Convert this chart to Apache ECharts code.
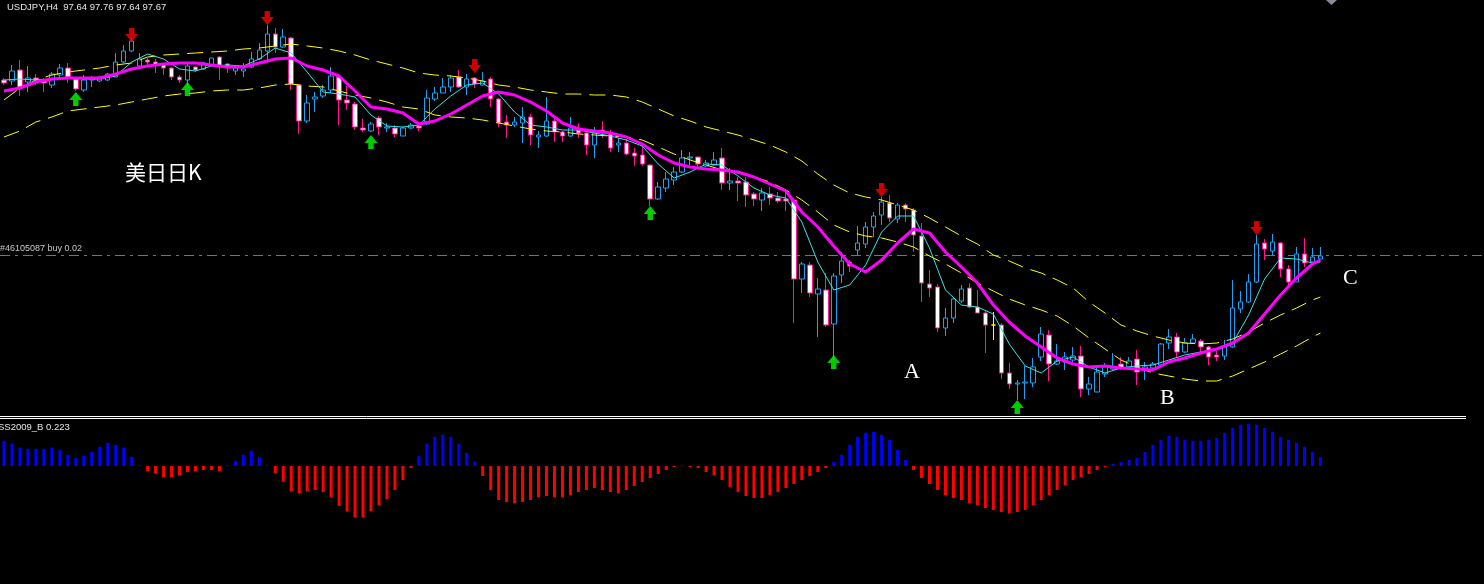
<!DOCTYPE html>
<html><head><meta charset="utf-8">
<script src="https://cdn.jsdelivr.net/npm/echarts/dist/echarts.min.js"></script>
<style>html,body{margin:0;padding:0;background:#000;overflow:hidden}#c{width:1484px;height:584px}</style>
</head><body><div id="c"></div>
<script>
// ---- candle data (USDJPY H4), index 0..165 ----
const open = [99.43,99.42,99.53,99.41,99.45,99.43,99.38,99.48,99.55,99.44,
 99.33,99.43,99.42,99.43,99.46,99.61,99.72,99.57,99.63,99.61,
 99.58,99.55,99.46,99.43,99.56,99.54,99.58,99.66,99.59,99.52,
 99.52,99.56,99.64,99.72,99.89,99.76,99.85,99.38,99.02,99.24,
 99.27,99.33,99.46,99.23,99.19,98.95,98.92,99.05,98.95,98.95,
 98.87,98.95,98.97,98.99,99.24,99.30,99.36,99.46,99.36,99.45,
 99.38,99.44,99.24,99.01,98.98,99.00,99.06,98.86,98.87,99.02,
 98.91,98.87,98.93,98.90,98.78,98.93,98.89,98.78,98.80,98.70,
 98.68,98.58,98.24,98.35,98.43,98.51,98.65,98.66,98.57,98.58,
 98.65,98.40,98.42,98.41,98.29,98.23,98.29,98.25,98.24,98.23,
 97.44,97.58,97.29,97.33,96.99,97.48,97.61,97.73,97.79,97.96,
 98.08,98.20,98.04,98.18,98.13,97.87,97.39,97.36,96.95,97.05,
 97.22,97.35,97.16,97.10,96.98,96.98,96.50,96.39,96.40,96.40,
 96.66,96.88,96.59,96.61,96.63,96.67,96.34,96.31,96.49,96.54,
 96.59,96.56,96.64,96.54,96.55,96.58,96.80,96.86,96.71,96.80,
 96.82,96.76,96.68,96.67,96.76,97.14,97.21,97.41,97.80,97.72,
 97.80,97.54,97.41,97.69,97.61,97.64];
const close = [99.40,99.52,99.36,99.45,99.43,99.40,99.49,99.55,99.46,99.34,
 99.43,99.45,99.46,99.49,99.61,99.72,99.82,99.64,99.61,99.58,
 99.55,99.46,99.43,99.57,99.53,99.60,99.65,99.57,99.55,99.55,
 99.54,99.64,99.73,99.89,99.76,99.86,99.39,99.02,99.20,99.26,
 99.33,99.47,99.23,99.20,98.96,98.93,98.99,98.96,98.96,98.89,
 98.95,98.98,98.95,99.25,99.30,99.36,99.45,99.36,99.44,99.39,
 99.42,99.24,99.00,98.98,99.01,99.06,98.88,98.88,99.02,98.91,
 98.87,98.95,98.90,98.78,98.90,98.90,98.75,98.80,98.69,98.67,
 98.59,98.24,98.36,98.44,98.51,98.65,98.66,98.59,98.60,98.63,
 98.40,98.42,98.40,98.28,98.24,98.30,98.25,98.22,98.22,97.44,
 97.59,97.30,97.34,96.98,97.47,97.62,97.57,97.80,97.96,98.07,
 98.21,98.05,98.18,98.14,97.88,97.40,97.35,96.95,97.05,97.24,
 97.34,97.16,97.10,96.98,96.98,96.50,96.39,96.40,96.41,96.56,
 96.89,96.59,96.62,96.66,96.67,96.34,96.39,96.51,96.57,96.56,
 96.55,96.62,96.51,96.56,96.59,96.79,96.86,96.71,96.80,96.84,
 96.76,96.66,96.66,96.76,97.15,97.21,97.41,97.79,97.74,97.81,
 97.54,97.41,97.69,97.60,97.66,97.67];
const low = [99.38,99.38,99.27,99.31,99.38,99.31,99.35,99.46,99.40,99.32,
 99.31,99.36,99.41,99.42,99.46,99.60,99.71,99.56,99.56,99.50,
 99.48,99.43,99.40,99.38,99.51,99.53,99.57,99.43,99.50,99.48,
 99.46,99.55,99.63,99.60,99.70,99.75,99.33,98.89,99.00,99.11,
 99.25,99.30,98.98,99.13,98.93,98.91,98.91,98.88,98.91,98.86,
 98.87,98.94,98.92,98.98,99.22,99.30,99.31,99.35,99.28,99.35,
 99.37,99.16,98.96,98.85,98.96,98.80,98.78,98.75,98.86,98.81,
 98.81,98.86,98.85,98.68,98.65,98.85,98.71,98.71,98.68,98.57,
 98.57,98.17,98.23,98.31,98.38,98.50,98.58,98.56,98.56,98.57,
 98.33,98.33,98.22,98.16,98.17,98.12,98.18,98.20,98.12,97.00,
 97.30,97.26,96.86,96.96,96.63,97.40,97.51,97.68,97.75,97.86,
 97.98,98.01,98.00,98.01,97.71,97.21,97.26,96.91,96.87,97.00,
 97.20,97.15,97.10,96.70,96.83,96.44,96.34,96.23,96.24,96.36,
 96.62,96.42,96.58,96.53,96.58,96.26,96.28,96.31,96.46,96.53,
 96.53,96.55,96.38,96.43,96.54,96.57,96.74,96.66,96.70,96.80,
 96.71,96.58,96.62,96.63,96.75,97.10,97.20,97.40,97.63,97.68,
 97.46,97.38,97.41,97.56,97.60,97.64];
const high = [99.45,99.58,99.63,99.57,99.49,99.45,99.51,99.59,99.60,99.46,
 99.48,99.47,99.46,99.50,99.70,99.78,99.85,99.70,99.65,99.64,
 99.60,99.56,99.48,99.61,99.57,99.61,99.65,99.67,99.60,99.58,
 99.60,99.71,99.80,99.98,99.95,99.94,99.86,99.39,99.28,99.31,
 99.38,99.56,99.48,99.37,99.21,99.04,99.01,99.07,99.00,98.98,
 98.96,99.00,98.99,99.33,99.36,99.45,99.48,99.53,99.49,99.46,
 99.51,99.46,99.25,99.08,99.06,99.16,99.09,98.92,99.26,99.04,
 98.92,99.06,99.00,98.93,98.96,99.02,98.93,98.85,98.84,98.75,
 98.76,98.59,98.41,98.51,98.56,98.73,98.71,98.66,98.63,98.71,
 98.75,98.55,98.46,98.46,98.31,98.35,98.36,98.31,98.34,98.25,
 97.61,97.61,97.45,97.50,97.50,97.71,97.63,97.97,98.01,98.11,
 98.26,98.28,98.20,98.20,98.15,98.00,97.53,97.39,97.15,97.26,
 97.38,97.40,97.33,97.13,97.11,97.00,96.60,96.43,96.57,96.65,
 96.96,96.93,96.79,96.71,96.76,96.77,96.46,96.56,96.60,96.70,
 96.66,96.66,96.73,96.61,96.61,96.80,96.94,96.90,96.85,96.89,
 96.84,96.77,96.72,96.83,97.43,97.32,97.49,97.88,97.84,97.89,
 97.81,97.58,97.76,97.85,97.75,97.76];
const dojiIdx = [124];

// ---- indicator lines, sampled at candles 0,2,4,...,164 and 165 ----
const slowMA = [99.32,99.35,99.41,99.44,99.45,99.45,99.45,99.49,99.54,99.57,
 99.59,99.60,99.60,99.58,99.56,99.56,99.60,99.64,99.65,99.57,
 99.53,99.47,99.32,99.16,99.14,99.10,98.99,99.02,99.09,99.18,
 99.27,99.31,99.28,99.21,99.12,99.00,98.94,98.92,98.90,98.86,
 98.79,98.68,98.60,98.56,98.54,98.53,98.51,98.46,98.39,98.32,
 98.11,97.96,97.77,97.59,97.51,97.63,97.80,97.94,97.90,97.71,
 97.56,97.40,97.18,97.01,96.87,96.76,96.65,96.59,96.56,96.57,
 96.55,96.54,96.53,96.61,96.65,96.70,96.74,96.80,96.90,97.09,
 97.28,97.45,97.59,97.63];
const fastMA = [99.43,99.44,99.43,99.44,99.45,99.44,99.44,99.47,99.61,99.69,
 99.64,99.54,99.52,99.57,99.58,99.57,99.64,99.75,99.70,99.51,
 99.31,99.29,99.26,99.08,98.97,98.96,98.98,99.14,99.27,99.38,
 99.40,99.29,99.11,98.98,98.96,98.93,98.93,98.90,98.87,98.83,
 98.77,98.59,98.45,98.51,98.59,98.58,98.47,98.35,98.28,98.25,
 98.01,97.61,97.33,97.38,97.58,97.91,98.07,98.07,97.75,97.33,
 97.18,97.16,97.09,96.79,96.57,96.50,96.62,96.66,96.56,96.50,
 96.55,96.57,96.58,96.63,96.68,96.71,96.74,96.80,97.08,97.44,
 97.65,97.64,97.60,97.61];
const upperBand = [99.23,99.35,99.43,99.48,99.51,99.53,99.55,99.58,99.60,99.66,
 99.68,99.69,99.70,99.71,99.72,99.74,99.75,99.77,99.79,99.77,
 99.75,99.72,99.68,99.63,99.59,99.55,99.50,99.48,99.47,99.45,
 99.42,99.38,99.36,99.33,99.31,99.29,99.29,99.28,99.28,99.26,
 99.21,99.14,99.07,99.02,98.96,98.92,98.88,98.83,98.78,98.71,
 98.62,98.49,98.38,98.30,98.26,98.23,98.18,98.13,98.05,97.96,
 97.87,97.79,97.68,97.62,97.55,97.50,97.43,97.35,97.21,97.10,
 96.98,96.92,96.87,96.83,96.80,96.79,96.80,96.84,96.91,97.00,
 97.08,97.15,97.23,97.26];
const lowerBand = [98.86,98.92,99.01,99.06,99.12,99.14,99.16,99.18,99.21,99.24,
 99.27,99.29,99.30,99.32,99.33,99.33,99.35,99.38,99.39,99.37,
 99.36,99.32,99.28,99.25,99.21,99.16,99.14,99.08,99.06,99.05,
 99.03,99.00,98.97,98.94,98.92,98.91,98.89,98.88,98.87,98.86,
 98.83,98.76,98.69,98.63,98.58,98.53,98.50,98.46,98.41,98.33,
 98.23,98.11,97.98,97.91,97.87,97.85,97.81,97.76,97.67,97.59,
 97.50,97.40,97.32,97.24,97.18,97.13,97.07,96.97,96.85,96.74,
 96.63,96.56,96.50,96.47,96.44,96.42,96.42,96.47,96.54,96.61,
 96.69,96.77,96.86,96.90];

// ---- signal arrows ----
const sellArrowIdx = [16, 33, 59, 110, 157];
const sellArrowPrice = [99.81, 99.98, 99.50, 98.26, 97.88];
const buyArrowIdx = [9, 23, 46, 81, 104, 127];
const buyArrowPrice = [99.31, 99.41, 98.88, 98.17, 96.68, 96.23];

// ---- SS2009_B histogram ----
const ssHist = [0.63,0.56,0.46,0.43,0.43,0.43,0.46,0.40,0.28,0.20,
 0.26,0.35,0.48,0.58,0.53,0.46,0.23,0.02,-0.13,-0.19,
 -0.28,-0.28,-0.24,-0.15,-0.13,-0.10,-0.10,-0.13,0.02,0.13,
 0.28,0.38,0.23,0.02,-0.18,-0.39,-0.63,-0.68,-0.63,-0.60,
 -0.65,-0.78,-1.00,-1.14,-1.28,-1.28,-1.13,-0.98,-0.83,-0.60,
 -0.35,-0.05,0.25,0.56,0.73,0.78,0.73,0.56,0.33,0.11,
 -0.25,-0.60,-0.85,-0.90,-0.93,-0.90,-0.85,-0.78,-0.75,-0.78,
 -0.78,-0.73,-0.65,-0.60,-0.55,-0.60,-0.65,-0.68,-0.60,-0.50,
 -0.40,-0.30,-0.20,-0.10,-0.03,0.02,-0.03,-0.05,-0.15,-0.23,
 -0.35,-0.53,-0.65,-0.75,-0.80,-0.80,-0.73,-0.65,-0.55,-0.45,
 -0.35,-0.25,-0.15,-0.05,0.10,0.28,0.53,0.73,0.83,0.85,
 0.78,0.65,0.40,0.15,-0.10,-0.30,-0.45,-0.60,-0.73,-0.80,
 -0.85,-0.93,-0.98,-1.05,-1.10,-1.15,-1.18,-1.15,-1.10,-0.98,
 -0.85,-0.73,-0.60,-0.48,-0.35,-0.28,-0.20,-0.10,-0.03,0.05,
 0.10,0.15,0.20,0.35,0.53,0.65,0.75,0.73,0.65,0.63,
 0.63,0.65,0.70,0.83,0.95,1.03,1.05,1.03,0.95,0.85,
 0.73,0.65,0.58,0.48,0.35,0.223];

const orderPrice = 97.68;
const headerText = 'USDJPY,H4  97.64 97.76 97.64 97.67';
const subLabel = 'SS2009_B 0.223';
const orderLabel = '#46105087 buy 0.02';
const noteText = '美日日K';

// ---- build ----
const SLOTS = 186; // 166 bars + empty chart shift
const cats = Array.from({length: SLOTS}, (_, i) => String(i));
const lineIdx = Array.from({length: 83}, (_, i) => 2 * i).concat([165]);
const pairs = arr => arr.map((v, j) => [lineIdx[j], v]);
const candleData = open.map((o, i) => dojiIdx.includes(i) ? '-' : [o, close[i], low[i], high[i]]);
const dojiData = open.map((o, i) => dojiIdx.includes(i) ? [o, close[i], low[i], high[i]] : '-');
const arrowDown = 'path://M3.5,0 L8.5,0 L8.5,5.5 L12,5.5 L6,13 L0,5.5 L3.5,5.5 Z';
const arrowUp = 'path://M6,0 L12,7.5 L8.5,7.5 L8.5,13 L3.5,13 L3.5,7.5 L0,7.5 Z';

const chart = echarts.init(document.getElementById('c'), null, {renderer: 'canvas'});
const lineSeries = (data, color, width, type, z) => ({
  type: 'line', xAxisIndex: 0, yAxisIndex: 0, data: pairs(data), showSymbol: false, symbol: 'none',
  connectNulls: true, silent: true, z: z,
  lineStyle: {color: color, width: width, type: type}
});
const smallFont = '9.5px "Liberation Sans", Arial, sans-serif';

chart.setOption({
  backgroundColor: '#000000',
  animation: false,
  grid: [
    {left: -4, top: 0, width: 1488, height: 415},
    {left: -4, top: 420, width: 1488, height: 164}
  ],
  xAxis: [
    {type: 'category', data: cats, gridIndex: 0, boundaryGap: true, show: false},
    {type: 'category', data: cats, gridIndex: 1, boundaryGap: true, show: false}
  ],
  yAxis: [
    {type: 'value', gridIndex: 0, min: 96.08, max: 100.23, show: false},
    {type: 'value', gridIndex: 1, min: -2.95, max: 1.15, show: false}
  ],
  series: [
    {
      type: 'candlestick', xAxisIndex: 0, yAxisIndex: 0, data: candleData, barWidth: 5, z: 2, silent: true,
      itemStyle: {color: '#000000', color0: '#FFFFFF', borderColor: '#1EA0F5', borderColor0: '#FF1493', borderWidth: 1},
      markLine: {
        silent: true, symbol: ['none', 'none'], label: {show: false}, z: 1,
        lineStyle: {color: '#3A9A4A', width: 1, type: [10, 5, 3, 5]},
        data: [{yAxis: orderPrice}]
      }
    },
    {
      type: 'candlestick', xAxisIndex: 0, yAxisIndex: 0, data: dojiData, barWidth: 5, z: 2, silent: true,
      itemStyle: {color: '#FFFF00', color0: '#FFFF00', borderColor: '#FFFF00', borderColor0: '#FFFF00', borderWidth: 1}
    },
    lineSeries(upperBand, '#FFFF00', 1, [16, 8], 3),
    lineSeries(lowerBand, '#FFFF00', 1, [16, 8], 3),
    lineSeries(fastMA, '#33E6E6', 1, 'solid', 4),
    lineSeries(slowMA, '#FF00FF', 3, 'solid', 5),
    {
      type: 'scatter', xAxisIndex: 0, yAxisIndex: 0, symbol: arrowDown, symbolSize: [13, 14], symbolOffset: [0, -7],
      itemStyle: {color: '#FF0000'}, z: 6, silent: true,
      data: sellArrowIdx.map((k, j) => [k, sellArrowPrice[j]])
    },
    {
      type: 'scatter', xAxisIndex: 0, yAxisIndex: 0, symbol: arrowUp, symbolSize: [13, 14], symbolOffset: [0, 7],
      itemStyle: {color: '#00FF00'}, z: 6, silent: true,
      data: buyArrowIdx.map((k, j) => [k, buyArrowPrice[j]])
    },
    {
      type: 'bar', xAxisIndex: 1, yAxisIndex: 1, barWidth: 3, silent: true,
      data: ssHist.map(v => ({value: v, itemStyle: {color: v >= 0 ? '#0000FF' : '#FF0000'}}))
    }
  ],
  graphic: [
    {type: 'text', x: 7, y: 7, style: {text: headerText, fill: '#E6E6E6', font: smallFont, verticalAlign: 'middle'}},
    {type: 'text', x: -2, y: 427, style: {text: subLabel, fill: '#E6E6E6', font: smallFont, verticalAlign: 'middle'}},
    {type: 'text', x: 0, y: 249, style: {text: orderLabel, fill: '#C8C8C8', font: '9px "Liberation Sans", Arial, sans-serif', verticalAlign: 'middle'}},
    {type: 'text', x: 125, y: 172, style: {text: noteText, fill: '#FFFFFF', font: '21px "Noto Sans CJK SC"', verticalAlign: 'middle'}},
    {type: 'text', x: 904, y: 372, style: {text: 'A', fill: '#FFFFFF', font: '22px "Liberation Serif"', verticalAlign: 'middle'}},
    {type: 'text', x: 1160, y: 398, style: {text: 'B', fill: '#FFFFFF', font: '22px "Liberation Serif"', verticalAlign: 'middle'}},
    {type: 'text', x: 1343, y: 278, style: {text: 'C', fill: '#FFFFFF', font: '22px "Liberation Serif"', verticalAlign: 'middle'}},
    {type: 'line', shape: {x1: 0, y1: 416.5, x2: 1466, y2: 416.5}, style: {stroke: '#FFFFFF', lineWidth: 1}},
    {type: 'line', shape: {x1: 0, y1: 418.5, x2: 1466, y2: 418.5}, style: {stroke: '#FFFFFF', lineWidth: 1}},
    {type: 'polygon', shape: {points: [[1326, 0], [1337, 0], [1331.5, 5]]}, style: {fill: '#8A8A9A'}}
  ]
});
</script></body></html>
